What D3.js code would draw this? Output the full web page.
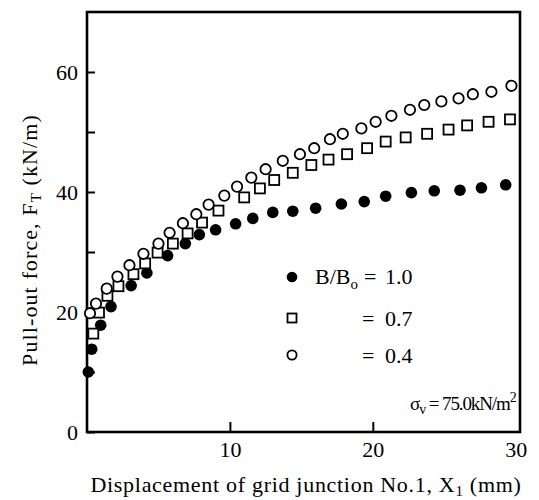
<!DOCTYPE html>
<html>
<head>
<meta charset="utf-8">
<script src="https://cdn.jsdelivr.net/npm/d3@7"></script>
<style>
  body { margin: 0; background: #fff; }
  svg text { font-family: "Liberation Serif", "Times New Roman", serif; fill: #000; }
</style>
</head>
<body>
<svg width="539" height="500"></svg>
<script>
// displacement (mm) / pull-out force (kN/m) for each width ratio
const ratioSeries = ["1.0", "0.7", "0.4"];

const dispB10 = [0.09, 0.33, 0.96, 1.68, 3.09, 4.19, 5.64, 6.88, 7.86, 9.0, 10.4, 11.6, 13.0, 14.4, 16.0, 17.8, 19.4, 20.9, 22.7, 24.3, 26.1, 27.6, 29.3];
const forceB10 = [10.0, 13.8, 17.8, 20.9, 24.4, 26.5, 29.4, 31.4, 32.9, 33.7, 34.7, 35.6, 36.6, 36.8, 37.3, 38.0, 38.4, 39.3, 39.9, 40.2, 40.3, 40.7, 41.2];

const dispB07 = [0.44, 0.84, 1.43, 2.2, 3.25, 4.07, 4.94, 6.01, 7.04, 8.05, 9.2, 11.0, 12.1, 13.1, 14.4, 15.7, 16.9, 18.2, 19.6, 20.9, 22.3, 23.8, 25.3, 26.6, 28.1, 29.6];
const forceB07 = [16.4, 19.9, 22.7, 24.3, 26.3, 28.1, 29.9, 31.4, 33.1, 34.9, 36.9, 39.1, 40.6, 42.0, 43.2, 44.5, 45.4, 46.3, 47.3, 48.4, 49.1, 49.7, 50.4, 51.1, 51.7, 52.1];

const dispB04 = [0.21, 0.63, 1.38, 2.13, 2.97, 3.95, 5.0, 5.78, 6.71, 7.65, 8.51, 9.61, 10.5, 11.5, 12.5, 13.7, 14.9, 15.9, 17.0, 17.9, 19.2, 20.2, 21.3, 22.6, 23.6, 24.8, 26.0, 27.0, 28.3, 29.7];
const forceB04 = [19.8, 21.4, 23.9, 25.9, 27.8, 29.7, 31.4, 33.2, 34.8, 36.3, 37.9, 39.4, 40.9, 42.4, 43.8, 45.2, 46.3, 47.3, 48.8, 49.7, 50.6, 51.7, 52.7, 53.7, 54.5, 55.1, 55.6, 56.3, 56.7, 57.7];

const yTicks = [0, 10, 20, 30, 40, 50, 60];
const yLabels = [0, 20, 40, 60];
const xTicks = [10, 20, 30];

const svg = d3.select("svg");
const plot = { left: 87, top: 12, right: 520, bottom: 432 };

const x = d3.scaleLinear().domain([0, 30.3]).range([plot.left, plot.right]);
const y = d3.scaleLinear().domain([0, 70]).range([plot.bottom, plot.top]);

function pairs(xs, ys) {
    return xs.map((v, i) => ({ x: v, y: ys[i] }));
}

//frame
svg.append("rect")
    .attr("x", plot.left)
    .attr("y", plot.top)
    .attr("width", plot.right - plot.left)
    .attr("height", plot.bottom - plot.top)
    .attr("fill", "none")
    .attr("stroke", "#000")
    .attr("stroke-width", 2.6);

//y axis, ticks pointing inward
let yAxis = svg.append("g")
    .attr("transform", "translate(" + plot.left + ",0)")
    .call(d3.axisLeft(y)
        .tickValues(yTicks)
        .tickSizeInner(-8)
        .tickSizeOuter(0)
        .tickPadding(9)
        .tickFormat(d => yLabels.includes(d) ? d : ""));
yAxis.select(".domain").remove();
yAxis.selectAll("line").attr("stroke-width", 2);
yAxis.selectAll("text").attr("font-size", 22).attr("font-family", "Liberation Serif");

//x axis
let xAxis = svg.append("g")
    .attr("transform", "translate(0," + plot.bottom + ")")
    .call(d3.axisBottom(x)
        .tickValues(xTicks)
        .tickSizeInner(-10)
        .tickSizeOuter(0)
        .tickPadding(9));
xAxis.select(".domain").remove();
xAxis.selectAll("line").attr("stroke-width", 2);
xAxis.selectAll(".tick").filter(d => d === 30).select("line").remove();
xAxis.selectAll("text").attr("font-size", 22).attr("font-family", "Liberation Serif");

//series markers
svg.append("g").selectAll("circle")
    .data(pairs(dispB10, forceB10))
    .join("circle")
    .attr("cx", d => x(d.x))
    .attr("cy", d => y(d.y))
    .attr("r", 5.8)
    .attr("fill", "#000");

svg.append("g").selectAll("rect")
    .data(pairs(dispB07, forceB07))
    .join("rect")
    .attr("x", d => x(d.x) - 5)
    .attr("y", d => y(d.y) - 5)
    .attr("width", 10)
    .attr("height", 10)
    .attr("fill", "#fff")
    .attr("stroke", "#000")
    .attr("stroke-width", 1.8);

svg.append("g").selectAll("circle")
    .data(pairs(dispB04, forceB04))
    .join("circle")
    .attr("cx", d => x(d.x))
    .attr("cy", d => y(d.y))
    .attr("r", 5.2)
    .attr("fill", "#fff")
    .attr("stroke", "#000")
    .attr("stroke-width", 1.8);

//legend
let legend = svg.append("g").attr("font-size", 22);
legend.append("circle").attr("cx", 292).attr("cy", 277).attr("r", 5.3).attr("fill", "#000");
legend.append("rect").attr("x", 287.5).attr("y", 313.5).attr("width", 9).attr("height", 9)
    .attr("fill", "#fff").attr("stroke", "#000").attr("stroke-width", 1.8);
legend.append("circle").attr("cx", 292).attr("cy", 355).attr("r", 4.6)
    .attr("fill", "#fff").attr("stroke", "#000").attr("stroke-width", 1.8);

let t1 = legend.append("text").attr("x", 315).attr("y", 284);
t1.append("tspan").text("B/B");
t1.append("tspan").attr("dy", 5).attr("font-size", 15).text("o");
t1.append("tspan").attr("dy", -5).attr("x", 364).text("=");
t1.append("tspan").attr("x", 385).text(ratioSeries[0]);

[[ratioSeries[1], 326], [ratioSeries[2], 363]].forEach(function (r) {
    let t = legend.append("text").attr("y", r[1]);
    t.append("tspan").attr("x", 362).text("=");
    t.append("tspan").attr("x", 385).text(r[0]);
});

let sig = svg.append("text").attr("x", 410).attr("y", 410)
    .attr("font-size", 19)
    .attr("letter-spacing", -1.1);
sig.append("tspan").text("σ");
sig.append("tspan").attr("dy", 4).attr("font-size", 14).text("v");
sig.append("tspan").attr("dy", -4).text(" = 75.0kN/m");
sig.append("tspan").attr("dy", -8).attr("font-size", 14).text("2");

//axis titles
let xt = svg.append("text")
    .attr("x", 306)
    .attr("y", 492)
    .attr("text-anchor", "middle")
    .attr("font-size", 22)
    .attr("letter-spacing", 0.7);
xt.append("tspan").text("Displacement of grid junction No.1, X");
xt.append("tspan").attr("dy", 4).attr("font-size", 15).text("1");
xt.append("tspan").attr("dy", -4).text(" (mm)");

let yt = svg.append("text")
    .attr("transform", "translate(37,240) rotate(-90)")
    .attr("text-anchor", "middle")
    .attr("font-size", 22)
    .attr("letter-spacing", 1.1);
yt.append("tspan").text("Pull-out force, F");
yt.append("tspan").attr("dy", 4).attr("font-size", 15).text("T");
yt.append("tspan").attr("dy", -4).text(" (kN/m)");
</script>
</body>
</html>
